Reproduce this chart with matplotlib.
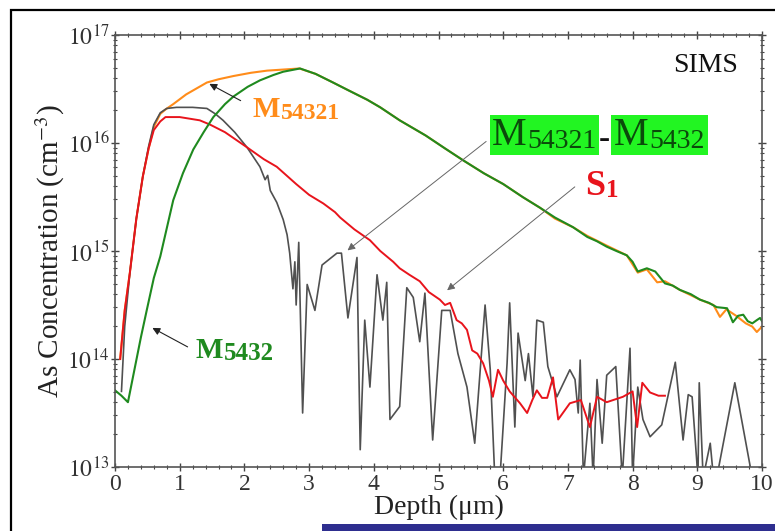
import numpy as np
import matplotlib
matplotlib.use("Agg")
import matplotlib.pyplot as plt
from matplotlib.patches import Rectangle
from matplotlib.transforms import IdentityTransform
from matplotlib.ticker import MultipleLocator, LogLocator, NullFormatter

plt.rcParams['font.family'] = ['Liberation Serif', 'DejaVu Serif']
plt.rcParams['mathtext.fontset'] = 'stix'

# values, stored as log10(concentration / cm^-3)
m54321_depth = [0.08, 0.15, 0.23, 0.33, 0.43, 0.52, 0.6, 0.7, 0.78, 0.9, 1.1, 1.42, 1.6, 1.83,
                2.1, 2.35, 2.6, 2.85, 3.1, 3.37, 3.6, 3.9, 4.1, 4.4, 4.8, 5.1, 5.38, 5.7, 6.0,
                6.3, 6.57, 6.8, 7.08, 7.3, 7.6, 7.91, 8.08, 8.22, 8.38, 8.5, 8.73, 9.04, 9.25,
                9.35, 9.45, 9.6, 9.75, 9.85, 9.92, 10.0]
m54321_exp = [14.0, 14.45, 14.8, 15.3, 15.69, 15.95, 16.15, 16.27, 16.31, 16.36, 16.45, 16.56,
              16.59, 16.62, 16.65, 16.67, 16.68, 16.69, 16.64, 16.56, 16.49, 16.4, 16.33, 16.21,
              16.07, 15.95, 15.84, 15.72, 15.62, 15.5, 15.4, 15.3, 15.22, 15.14, 15.05, 14.96,
              14.8, 14.83, 14.71, 14.72, 14.64, 14.55, 14.5, 14.39, 14.46, 14.4, 14.33, 14.3,
              14.25, 14.3]

m5432_depth = [0.0, 0.1, 0.2, 0.3, 0.4, 0.49, 0.6, 0.7, 0.9, 1.05, 1.21, 1.37, 1.52, 1.7, 1.83,
               2.05, 2.24, 2.45, 2.6, 2.86, 3.1, 3.37, 3.6, 3.9, 4.1, 4.4, 4.8, 5.1, 5.38, 5.7,
               6.0, 6.3, 6.57, 6.8, 7.08, 7.3, 7.45, 7.6, 7.75, 7.91, 8.0, 8.08, 8.22, 8.35,
               8.5, 8.62, 8.73, 8.9, 9.04, 9.18, 9.3, 9.46, 9.55, 9.63, 9.71, 9.78, 9.85, 9.92,
               9.97, 10.0]
m5432_exp = [13.71, 13.66, 13.6, 13.9, 14.2, 14.45, 14.75, 14.95, 15.47, 15.72, 15.94, 16.1,
             16.24, 16.36, 16.43, 16.52, 16.58, 16.63, 16.66, 16.69, 16.64, 16.56, 16.49, 16.4,
             16.33, 16.21, 16.07, 15.95, 15.84, 15.72, 15.62, 15.5, 15.4, 15.31, 15.22, 15.13,
             15.09, 15.04, 15.0, 14.96, 14.9, 14.81, 14.84, 14.81, 14.7, 14.68, 14.64, 14.6,
             14.55, 14.52, 14.48, 14.47, 14.34, 14.4, 14.41, 14.35, 14.33, 14.36, 14.38, 14.35]

s1_depth = [0.08, 0.15, 0.23, 0.33, 0.43, 0.52, 0.6, 0.7, 0.78, 1.0, 1.31, 1.47, 1.7, 2.04,
            2.3, 2.5, 2.8, 3.0, 3.22, 3.4, 3.48, 3.7, 3.94, 4.1, 4.3, 4.4, 4.55, 4.71, 4.85,
            5.02, 5.1, 5.18, 5.28, 5.36, 5.44, 5.52, 5.6, 5.69, 5.78, 5.84, 5.92, 6.0, 6.1,
            6.26, 6.37, 6.45, 6.52, 6.6, 6.68, 6.77, 6.85, 7.03, 7.2, 7.34, 7.45, 7.6, 7.85,
            8.0, 8.07, 8.15, 8.27, 8.4, 8.5]
s1_exp = [14.0, 14.45, 14.8, 15.3, 15.69, 15.95, 16.12, 16.2, 16.24, 16.24, 16.21, 16.17, 16.1,
          15.96, 15.85, 15.78, 15.62, 15.52, 15.44, 15.36, 15.31, 15.2, 15.1, 15.0, 14.9,
          14.84, 14.78, 14.72, 14.62, 14.55, 14.5, 14.52, 14.36, 14.33, 14.27, 14.08, 14.05,
          13.96, 13.8, 13.65, 13.9, 13.8, 13.7, 13.59, 13.5, 13.62, 13.71, 13.64, 13.64, 13.83,
          13.44, 13.59, 13.62, 13.37, 13.65, 13.6, 13.65, 13.7, 13.37, 13.78, 13.69, 13.66,
          13.66]

diff_depth = [0.1, 0.15, 0.23, 0.33, 0.43, 0.52, 0.6, 0.7, 0.8, 0.95, 1.2, 1.42, 1.55, 1.67,
              1.85, 2.04, 2.24, 2.32, 2.36, 2.4, 2.5, 2.6, 2.66, 2.7, 2.75, 2.78, 2.8, 2.84,
              2.9, 2.97, 3.09, 3.2, 3.43, 3.5, 3.6, 3.74, 3.79, 3.86, 3.94, 4.05, 4.14, 4.2,
              4.25, 4.4, 4.51, 4.61, 4.71, 4.79, 4.91, 5.05, 5.18, 5.3, 5.44, 5.56, 5.72, 5.8,
              5.87, 5.95, 6.06, 6.1, 6.18, 6.23, 6.34, 6.39, 6.46, 6.52, 6.62, 6.69, 6.83, 7.03,
              7.11, 7.16, 7.19, 7.24, 7.34, 7.39, 7.45, 7.53, 7.6, 7.74, 7.84, 7.96, 8.0, 8.08,
              8.16, 8.27, 8.45, 8.66, 8.78, 8.86, 8.92, 9.01, 9.03, 9.09, 9.2, 9.25, 9.3, 9.58,
              9.85]
diff_exp = [13.7, 14.3, 14.8, 15.3, 15.69, 15.97, 16.17, 16.28, 16.32, 16.33, 16.33, 16.32,
            16.27, 16.21, 16.1, 15.96, 15.78, 15.66, 15.7, 15.56, 15.45, 15.29, 15.15, 14.98,
            14.65, 14.9, 14.5, 15.08, 13.5, 14.69, 14.45, 14.87, 14.98, 14.98, 14.38, 14.94,
            13.16, 14.36, 13.74, 14.78, 14.36, 14.71, 13.44, 13.56, 14.66, 14.57, 14.16, 14.61,
            13.25, 14.45, 14.45, 14.05, 13.74, 13.22, 14.5, 13.9, 12.9, 12.9, 13.96, 14.52,
            13.37, 14.24, 13.8, 14.05, 13.65, 14.36, 14.34, 13.93, 13.65, 13.9, 13.81, 13.5,
            13.99, 12.9, 13.59, 12.9, 13.81, 13.22, 13.85, 13.93, 12.9, 14.1, 12.9, 13.74,
            13.44, 13.28, 13.39, 13.97, 13.25, 13.67, 13.65, 12.9, 13.78, 12.9, 13.22, 12.9,
            12.9, 13.78, 12.9]

x_ticks = list(range(0, 11))
y_decades = [13, 14, 15, 16, 17]

ORANGE = '#ff8c1a'
GREEN = '#1f8a1f'
RED = '#e8141c'

fig = plt.figure(figsize=(7.75, 5.31), dpi=100)
ax = fig.add_axes([115 / 775, 1 - 467 / 531, 647 / 775, 432 / 531])

ax.plot(m54321_depth, 10.0 ** np.array(m54321_exp), color=ORANGE, lw=1.5)
ax.plot(diff_depth, 10.0 ** np.array(diff_exp), color='#505050', lw=1.2)
ax.plot(s1_depth, 10.0 ** np.array(s1_exp), color=RED, lw=1.4)
ax.plot(m5432_depth, 10.0 ** np.array(m5432_exp), color=GREEN, lw=1.5)

ax.set_yscale('log')
ax.set_xlim(0, 10)
ax.set_ylim(1e13, 1e17)
ax.set_xticks(x_ticks)
ax.xaxis.set_minor_locator(MultipleLocator(0.2))
ax.set_yticks([10.0 ** d for d in y_decades])
ax.set_yticklabels([r'$10^{%d}$' % d for d in y_decades])
ax.yaxis.set_minor_locator(LogLocator(base=10, subs=np.arange(2, 10)))
ax.yaxis.set_minor_formatter(NullFormatter())
ax.tick_params(which='both', direction='inout', top=True, right=True, colors='#444444')
ax.tick_params(which='major', length=6, width=1)
ax.tick_params(which='minor', length=3, width=0.8)
ax.tick_params(axis='x', labelsize=17, labelcolor='#333333', pad=2)
ax.tick_params(axis='y', labelsize=17, labelcolor='#333333', pad=1)
for sp in ax.spines.values():
    sp.set_color('#555555')
    sp.set_linewidth(1.2)

ax.set_xlabel('Depth (μm)', fontsize=20, color='#222222', labelpad=0)
ax.set_ylabel(r'As Concentration (cm$^{-3}$)', fontsize=21, color='#222222', labelpad=0)

renderer = fig.canvas.get_renderer()


def sub_label(x, v, main, sub, color, msize, ssize, weight, drop=2):
    # big letter followed by smaller digits on nearly the same baseline
    t = ax.text(x, 10 ** v, main, color=color, fontsize=msize, fontweight=weight,
                va='baseline', ha='left', zorder=5)
    bb = t.get_window_extent(renderer=renderer)
    _, y0 = ax.transData.transform((x, 10 ** v))
    s = ax.text(bb.x1 + 1, y0 - drop, sub, color=color, fontsize=ssize, fontweight=weight,
                va='baseline', ha='left', transform=IdentityTransform(), zorder=5)
    sb = s.get_window_extent(renderer=renderer)
    return bb.x0, sb.x1, y0


arrow_k = dict(arrowstyle='-|>', color='#222222', lw=0.8, mutation_scale=11)
arrow_g = dict(arrowstyle='-|>', color='#666666', lw=0.7, mutation_scale=11)

ax.annotate('', xy=(1.42, 10 ** 16.56), xytext=(1.98, 10 ** 16.38), arrowprops=arrow_k)
sub_label(2.13, 16.24, 'M', '54321', ORANGE, 21, 17, 'bold')

ax.annotate('', xy=(0.54, 10 ** 14.3), xytext=(1.16, 10 ** 14.1), arrowprops=arrow_k)
sub_label(1.24, 14.01, 'M', '5432', GREEN, 21, 18, 'bold')

ax.annotate('', xy=(3.56, 10 ** 14.99), xytext=(5.77, 10 ** 16.03), arrowprops=arrow_g)
x0, x1, yb = sub_label(5.82, 15.98, 'M', '54321', '#0b4a0b', 28, 20, 'normal', drop=3)
ax.add_patch(Rectangle((x0 - 2, yb - 10), x1 - x0 + 5, 40, transform=IdentityTransform(),
                       facecolor='#22f522', edgecolor='none', zorder=4))
ax.text(x1 + 8, yb + 5, '-', color='#111111', fontsize=24, va='center', ha='center',
        transform=IdentityTransform(), zorder=5)
dx = ax.transData.inverted().transform((x1 + 17, yb))[0]
x0, x1, yb = sub_label(dx, 15.98, 'M', '5432', '#0b4a0b', 28, 20, 'normal', drop=3)
ax.add_patch(Rectangle((x0 - 2, yb - 10), x1 - x0 + 6, 40, transform=IdentityTransform(),
                       facecolor='#22f522', edgecolor='none', zorder=4))

ax.annotate('', xy=(5.1, 10 ** 14.62), xytext=(7.14, 10 ** 15.61), arrowprops=arrow_g)
sub_label(7.26, 15.52, 'S', '1', RED, 26, 18, 'bold')

ax.text(8.62, 10 ** 16.66, 'SIMS', color='#111111', fontsize=20, va='baseline', ha='left')

# outer frame and the blue strip at the bottom
fig.patches.append(Rectangle((11 / 775, -0.2), 1.2, 1.2 - 10 / 531,
                             transform=fig.transFigure, fill=False, edgecolor='black',
                             lw=1.6))
fig.patches.append(Rectangle((322 / 775, 0), 1 - 322 / 775, 7 / 531,
                             transform=fig.transFigure, facecolor='#2e2e8f',
                             edgecolor='none'))

fig.savefig('out.png', dpi=100)
